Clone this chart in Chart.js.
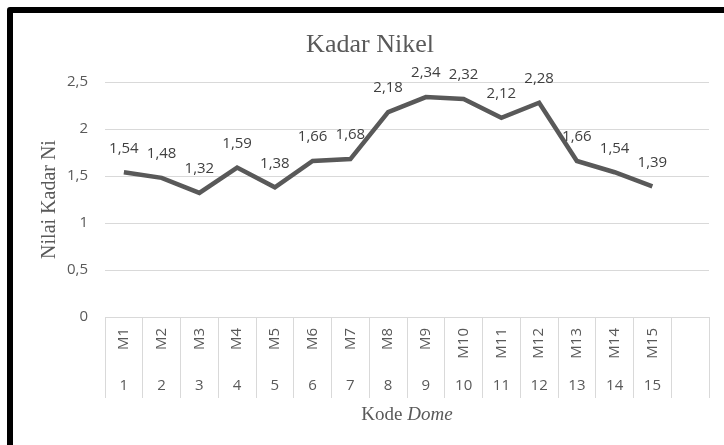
<!DOCTYPE html>
<html>
<head>
<meta charset="utf-8">
<script src="https://cdn.jsdelivr.net/npm/chart.js@4.4.1/dist/chart.umd.min.js"></script>
<style>
    html, body { margin: 0; padding: 0; background: #fff; }
    #wrap { position: relative; width: 724px; height: 445px; overflow: hidden; }
    #frame {
        position: absolute; left: 7px; top: 7px; width: 740px; height: 460px;
        border: 6px solid #000; border-radius: 3px; box-sizing: border-box;
    }
    canvas { position: absolute; left: 0; top: 0; }
</style>
</head>
<body>
<div id="wrap">
    <canvas id="nikelChart" width="724" height="445"></canvas>
    <div id="frame"></div>
</div>
<script>
// Chart data
const kodeDome = ['M1', 'M2', 'M3', 'M4', 'M5', 'M6', 'M7', 'M8', 'M9', 'M10', 'M11', 'M12', 'M13', 'M14', 'M15', ''];
const nomor = ['1', '2', '3', '4', '5', '6', '7', '8', '9', '10', '11', '12', '13', '14', '15', ''];
const kadarNi = [1.54, 1.48, 1.32, 1.59, 1.38, 1.66, 1.68, 2.18, 2.34, 2.32, 2.12, 2.28, 1.66, 1.54, 1.39, null];
const yTicks = ['0', '0,5', '1', '1,5', '2', '2,5'];

const chartTitle = 'Kadar Nikel';
const yTitle = 'Nilai Kadar Ni';

const grey = '#595959';
const sansFont = '"Open Sans", sans-serif';
const serifFont = '"Liberation Serif", "Times New Roman", serif';

// Titles, data labels and the two-level category axis
const excelLook = {
    id: 'excelLook',
    afterDraw(chart) {
        const ctx = chart.ctx;
        const xScale = chart.scales.x;
        ctx.save();

        // chart title
        ctx.fillStyle = grey;
        ctx.font = '26px ' + serifFont;
        ctx.textAlign = 'center';
        ctx.textBaseline = 'alphabetic';
        ctx.fillText(chartTitle, 370, 52);

        // x axis title: "Kode" regular + "Dome" italic
        ctx.font = '19px ' + serifFont;
        const w1 = ctx.measureText('Kode ').width;
        ctx.font = 'italic 19px ' + serifFont;
        const w2 = ctx.measureText('Dome').width;
        const startX = (xScale.left + xScale.right) / 2 - (w1 + w2) / 2;
        ctx.textAlign = 'left';
        ctx.font = '19px ' + serifFont;
        ctx.fillText('Kode ', startX, 420);
        ctx.font = 'italic 19px ' + serifFont;
        ctx.fillText('Dome', startX + w1, 420);

        // category labels, two levels
        ctx.font = '15px ' + sansFont;
        ctx.fillStyle = grey;
        kodeDome.forEach((lab, i) => {
            const x = xScale.getPixelForValue(i);
            ctx.save();
            ctx.translate(x, xScale.top + 11);
            ctx.rotate(-Math.PI / 2);
            ctx.textAlign = 'right';
            ctx.textBaseline = 'middle';
            ctx.fillText(lab, 0, 0);
            ctx.restore();
            ctx.textAlign = 'center';
            ctx.textBaseline = 'middle';
            ctx.fillText(nomor[i], x, xScale.top + 69);
        });

        // data labels above the points
        ctx.fillStyle = '#404040';
        ctx.font = '15px ' + sansFont;
        ctx.textAlign = 'center';
        ctx.textBaseline = 'middle';
        const meta = chart.getDatasetMeta(0);
        meta.data.forEach((pt, i) => {
            if (kadarNi[i] === null) return;
            ctx.fillText(kadarNi[i].toFixed(2).replace('.', ','), pt.x, pt.y - 24);
        });
        ctx.restore();
    }
};

const ctx = document.getElementById('nikelChart').getContext('2d');
const nikelChart = new Chart(ctx, {
    type: 'line',
    data: {
        labels: kodeDome,
        datasets: [{
            label: chartTitle,
            data: kadarNi,
            borderColor: grey,
            borderWidth: 4.5,
            pointRadius: 0,
            tension: 0,
            fill: false
        }]
    },
    options: {
        responsive: false,
        animation: false,
        devicePixelRatio: 1,
        layout: {
            padding: { left: 0, right: 15, top: 82, bottom: 47 }
        },
        scales: {
            x: {
                offset: true,
                grid: {
                    offset: true,
                    drawOnChartArea: false,
                    drawTicks: true,
                    tickLength: 81,
                    color: '#d9d9d9'
                },
                border: { display: true, color: '#d9d9d9' },
                ticks: { display: false },
                afterFit: scale => { scale.height = 81; }
            },
            y: {
                min: 0,
                max: 2.5,
                grid: { color: '#d9d9d9', drawTicks: false },
                border: { display: false },
                ticks: {
                    stepSize: 0.5,
                    padding: 17,
                    color: grey,
                    font: { family: sansFont, size: 15 },
                    callback: (v, i) => yTicks[Math.round(v * 2)]
                },
                title: {
                    display: true,
                    text: yTitle,
                    color: grey,
                    font: { family: serifFont, size: 20 },
                    padding: { top: 38, bottom: 0 }
                },
                afterFit: scale => { scale.width = 105; }
            }
        },
        plugins: {
            legend: { display: false },
            title: { display: false },
            tooltip: { enabled: false }
        }
    },
    plugins: [excelLook]
});
</script>
</body>
</html>
